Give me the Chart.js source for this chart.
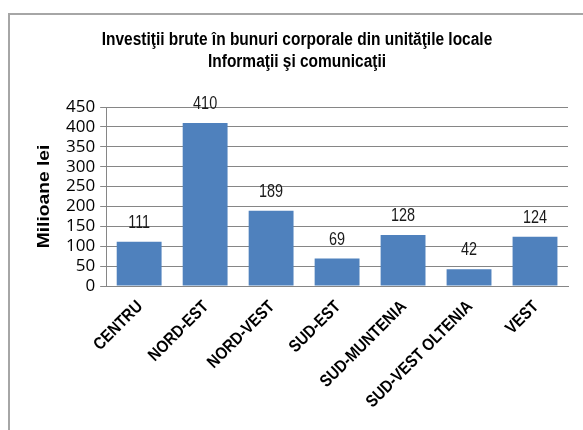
<!DOCTYPE html>
<html>
<head>
<meta charset="utf-8">
<script src="https://cdn.jsdelivr.net/npm/chart.js@4"></script>
<style>
  html, body { margin: 0; padding: 0; background: #fff; }
  .frame { position: absolute; left: 8px; top: 13px; width: 600px; height: 440px; border-left: 2px solid #a6a6a6; border-top: 2px solid #a6a6a6; }
  .wrap { position: absolute; left: 0; top: 0; width: 583px; height: 430px; }
</style>
</head>
<body>
<div class="frame"></div>
<div class="wrap"><canvas id="myChart"></canvas></div>
<script>
const regiuni = ['CENTRU', 'NORD-EST', 'NORD-VEST', 'SUD-EST', 'SUD-MUNTENIA', 'SUD-VEST OLTENIA', 'VEST']
const investitii = [111, 410, 189, 69, 128, 42, 124]
const titlu = ['Investiţii brute în bunuri corporale din unităţile locale', 'Informaţii şi comunicaţii']
const titluAxaY = 'Milioane lei'

// text scris "ingust" (fontul narrow nu exista), scalat pe orizontala
function textIngust(ctx, text, x, y, scale) {
    ctx.save()
    ctx.translate(x, y)
    ctx.scale(scale, 1)
    ctx.fillText(text, 0, 0)
    ctx.restore()
}

const textePlugin = {
    id: 'texte',
    afterDatasetsDraw(chart) {
        const ctx = chart.ctx
        const meta = chart.getDatasetMeta(0)
        const area = chart.chartArea

        // valori deasupra barelor
        ctx.save()
        ctx.font = "19px 'Liberation Sans', sans-serif"
        ctx.fillStyle = '#1a1a1a'
        ctx.textAlign = 'center'
        ctx.textBaseline = 'alphabetic'
        meta.data.forEach((bar, i) => {
            textIngust(ctx, String(investitii[i]), bar.x, bar.y - 14, 0.76)
        })
        ctx.restore()

        // titlu
        ctx.save()
        ctx.font = "bold 18px 'Liberation Sans', sans-serif"
        ctx.fillStyle = '#000'
        ctx.textAlign = 'center'
        ctx.textBaseline = 'alphabetic'
        textIngust(ctx, titlu[0], 297, 45, 0.86)
        textIngust(ctx, titlu[1], 297, 67, 0.86)
        ctx.restore()

        // titlu axa Y
        ctx.save()
        ctx.font = "bold 16px 'Liberation Sans', sans-serif"
        ctx.fillStyle = '#000'
        ctx.textAlign = 'center'
        ctx.textBaseline = 'middle'
        ctx.translate(45, (area.top + area.bottom) / 2)
        ctx.rotate(-Math.PI / 2)
        ctx.scale(1.2, 1)
        ctx.fillText(titluAxaY, 0, 0)
        ctx.restore()

        // etichete categorii, rotite la 45 de grade
        ctx.save()
        ctx.font = "bold 17px 'Liberation Sans', sans-serif"
        ctx.fillStyle = '#000'
        ctx.textAlign = 'right'
        ctx.textBaseline = 'middle'
        const xScale = chart.scales.x
        regiuni.forEach((r, i) => {
            const x = xScale.getPixelForTick(i)
            ctx.save()
            ctx.translate(x + 1, area.bottom + 18)
            ctx.rotate(-Math.PI / 4)
            ctx.scale(0.87, 1)
            ctx.fillText(r, 0, 0)
            ctx.restore()
        })
        ctx.restore()
    }
}

const ctx = document.getElementById('myChart')

new Chart(ctx, {
    type: 'bar',
    data: {
        labels: regiuni,
        datasets: [{
            label: titluAxaY,
            data: investitii,
            backgroundColor: '#4f81bd',
            borderWidth: 0,
            barPercentage: 0.68,
            categoryPercentage: 1
        }]
    },
    plugins: [textePlugin],
    options: {
        responsive: true,
        maintainAspectRatio: false,
        animation: false,
        layout: { padding: { left: 61, right: 15, top: 107, bottom: 144 } },
        plugins: {
            legend: { display: false },
            tooltip: { enabled: false },
            title: { display: false }
        },
        scales: {
            x: {
                grid: { display: false, drawTicks: false },
                border: { color: '#868686' },
                ticks: { display: false }
            },
            y: {
                min: 0,
                max: 450,
                ticks: {
                    stepSize: 50,
                    autoSkip: false,
                    color: '#000',
                    padding: 5,
                    font: { family: "'Open Sans', 'Liberation Sans', sans-serif", size: 17, lineHeight: 1 }
                },
                grid: { color: '#868686', tickLength: 6 },
                border: { color: '#868686' }
            }
        }
    }
})
</script>
</body>
</html>
